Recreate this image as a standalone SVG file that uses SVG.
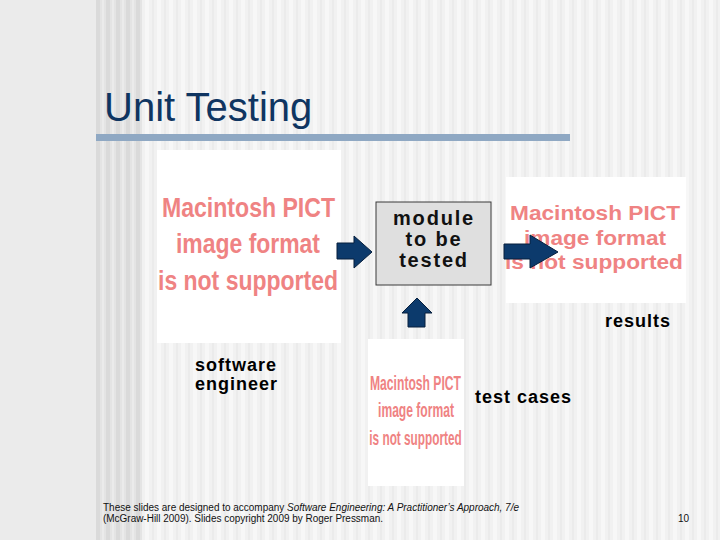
<svg xmlns="http://www.w3.org/2000/svg" width="720" height="540" viewBox="0 0 720 540">
  <defs>
    <pattern id="lightStripes" x="0" y="0" width="12" height="540" patternUnits="userSpaceOnUse">
      <rect x="0" y="0" width="12" height="540" fill="#f1f1f1"/>
      <rect x="1" y="0" width="4" height="540" fill="#f7f7f7"/>
      <rect x="8" y="0" width="2" height="540" fill="#ebebeb"/>
    </pattern>
    <pattern id="darkStripes" x="96" y="0" width="10" height="540" patternUnits="userSpaceOnUse">
      <rect x="0" y="0" width="10" height="540" fill="#e4e4e4"/>
      <rect x="0" y="0" width="4" height="540" fill="#dadada"/>
      <rect x="6" y="0" width="2" height="540" fill="#ebebeb"/>
    </pattern>
    <style>
      .title { font-family: "Liberation Sans", Arial, sans-serif; font-size: 40px; fill: #0f3561; }
      .lbl { font-family: "Liberation Sans", Arial, sans-serif; font-weight: bold; font-size: 18px; letter-spacing: 1px; fill: #000; }
      .mod { font-family: "Liberation Sans", Arial, sans-serif; font-weight: bold; font-size: 20px; letter-spacing: 1.8px; fill: #111; text-anchor: middle; }
      .pict { font-family: "Liberation Sans", Arial, sans-serif; font-weight: bold; fill: #ef8383; }
      .mid { text-anchor: middle; }
      .foot { font-family: "Liberation Sans", Arial, sans-serif; font-size: 10px; fill: #111; }
      .img { fill: #ffffff; }
      .arrow { fill: #0c3a6c; stroke: #061f3d; stroke-width: 1; }
    </style>
  </defs>

  <!-- background -->
  <rect x="0" y="0" width="720" height="540" fill="#ebebeb"/>
  <rect x="96" y="0" width="624" height="540" fill="url(#lightStripes)"/>
  <rect x="96" y="0" width="46" height="540" fill="url(#darkStripes)"/>

  <!-- title -->
  <g id="title">
    <text class="title" x="104" y="121">Unit Testing</text>
    <rect x="96" y="134" width="474" height="7" fill="#8fa8c3"/>
  </g>

  <!-- software engineer image -->
  <g id="engineer">
    <rect class="img" x="157" y="150" width="184" height="193"/>
    <text class="pict" font-size="28" x="162" y="217" textLength="173" lengthAdjust="spacingAndGlyphs">Macintosh PICT</text>
    <text class="pict" font-size="28" x="176" y="253" textLength="144" lengthAdjust="spacingAndGlyphs">image format</text>
    <text class="pict" font-size="28" x="158" y="290" textLength="180" lengthAdjust="spacingAndGlyphs">is not supported</text>
    <text class="lbl" x="195" y="371">software</text>
    <text class="lbl" x="195" y="390">engineer</text>
  </g>

  <!-- module to be tested -->
  <g id="module">
    <rect x="376" y="202" width="115" height="83" fill="#dfdfdf" stroke="#3a3a3a" stroke-width="1"/>
    <text class="mod" x="434" y="225">module</text>
    <text class="mod" x="434" y="246">to be</text>
    <text class="mod" x="434" y="267">tested</text>
  </g>

  <!-- results image -->
  <g id="results">
    <rect class="img" x="506" y="177" width="180" height="126"/>
    <text class="pict" font-size="20" x="510" y="220" textLength="170" lengthAdjust="spacingAndGlyphs">Macintosh PICT</text>
    <text class="pict" font-size="20" x="524" y="245" textLength="142" lengthAdjust="spacingAndGlyphs">image format</text>
    <text class="pict" font-size="20" x="505" y="269" textLength="178" lengthAdjust="spacingAndGlyphs">is not supported</text>
    <text class="lbl" x="605" y="327">results</text>
  </g>

  <!-- test cases image -->
  <g id="testcases">
    <rect class="img" x="368" y="339" width="96" height="147"/>
    <text class="pict mid" font-size="20" transform="translate(415.5,390) scale(0.607,1)">Macintosh PICT</text>
    <text class="pict mid" font-size="20" transform="translate(416,417) scale(0.605,1)">image format</text>
    <text class="pict mid" font-size="20" transform="translate(415.5,445) scale(0.59,1)">is not supported</text>
    <text class="lbl" x="475" y="403">test cases</text>
  </g>

  <!-- connectors -->
  <g id="connectors">
    <path class="arrow" d="M337,243 H354 V236 L372,252 L354,268 V259 H337 Z"/>
    <path class="arrow" d="M504,244 H530 V235 L558,252 L530,268 V259 H504 Z"/>
    <path class="arrow" d="M408,327 V313 H402 L417,298 L432,313 H425 V327 Z"/>
  </g>

  <!-- footer -->
  <g id="footer">
    <text class="foot" x="103" y="511" textLength="416" lengthAdjust="spacingAndGlyphs">These slides are designed to accompany <tspan font-style="italic">Software Engineering: A Practitioner’s Approach, 7/e</tspan></text>
    <text class="foot" x="103" y="522" textLength="280" lengthAdjust="spacingAndGlyphs">(McGraw-Hill 2009). Slides copyright 2009 by Roger Pressman.</text>
    <text class="foot" x="678" y="522">10</text>
  </g>
</svg>
